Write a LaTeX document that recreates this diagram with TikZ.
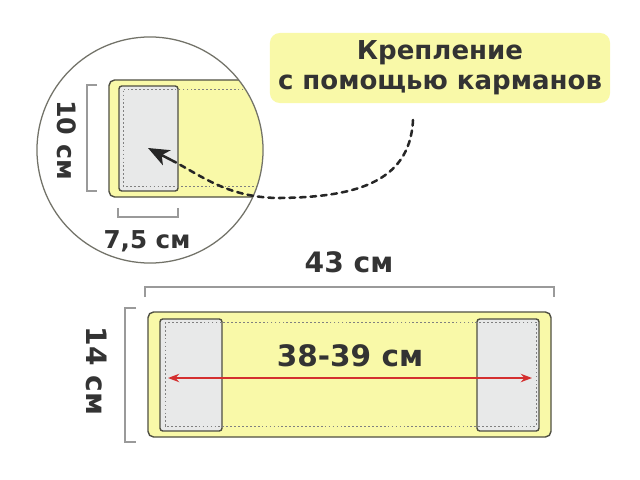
\documentclass[tikz,border=0pt]{standalone}
\usepackage{fontspec}
\setmainfont{DejaVu Sans}
\usetikzlibrary{arrows.meta}
\definecolor{beltyellow}{HTML}{F9F9A8}
\definecolor{pocketgray}{HTML}{E8E9E9}
\definecolor{edgegray}{HTML}{4F4F42}
\definecolor{stitchgray}{HTML}{808080}
\definecolor{bracketgray}{HTML}{9A9A9A}
\definecolor{textgray}{HTML}{333333}
\definecolor{arrowred}{HTML}{D42F2F}

\begin{document}
\begin{tikzpicture}[x=0.025cm,y=-0.025cm]
  \tikzset{belt/.style={fill=beltyellow,draw=edgegray,line width=1pt,rounded corners=4pt},
    pocket/.style={fill=pocketgray,draw=edgegray,line width=1pt,rounded corners=2pt},
    stitch/.style={draw=stitchgray,line width=0.6pt,dash pattern=on 1.2pt off 1.6pt},
    bracket/.style={draw=bracketgray,line width=0.8pt},
    size/.style={font=\bfseries\fontsize{20}{24}\selectfont,text=textgray,inner sep=0pt},
    note/.style={fill=beltyellow,rounded corners=7pt,align=center,text=textgray,
      font=\bfseries\fontsize{18.5}{21.5}\selectfont,minimum width=8.5cm,minimum height=1.75cm}}
  \useasboundingbox[fill=white] (0,0) rectangle (640,480);
  % close-up of one end
  \begin{scope}
    \clip (150,150) circle (2.825cm);
    \draw[belt] (109,80) rectangle (330,197);
    \draw[pocket] (119,86) rectangle (178,191);
    \draw[stitch] (330,89) -- (123,89) -- (123,186) -- (330,186);
  \end{scope}
  \draw[draw=edgegray!80,line width=0.9pt] (150,150) circle (2.825cm);
  \draw[bracket] (97,85) -- (87,85) -- (87,191) -- (97,191);
  \draw[bracket] (118,208) -- (118,217) -- (178,217) -- (178,208);
  \node[size,rotate=-90,font=\bfseries\fontsize{18}{22}\selectfont] (h10) at (67,140) {10 см};
  \node[size,font=\bfseries\fontsize{17.5}{22}\selectfont] (w75) at (147,241) {7,5 см};

  % whole belt
  \draw[belt] (148,312) rectangle (551,437);
  \draw[pocket] (160,319) rectangle (222,431);
  \draw[pocket] (477,319) rectangle (539,431);
  \draw[stitch] (165,322) rectangle (536,426);
  \draw[bracket] (145,297) -- (145,287) -- (554,287) -- (554,297);
  \draw[bracket] (136,308) -- (125,308) -- (125,442) -- (136,442);
  \node[size] (l43) at (349,262) {43 см};
  \node[size,rotate=-90] (h14) at (97,371) {14 см};
  \node[size,font=\bfseries\fontsize{21}{24}\selectfont] (inner) at (350,356) {38-39 см};
  \coordinate (endL) at (168,378);
  \coordinate (endR) at (532,378);
  \draw[{Stealth[length=8pt,width=6pt]}-{Stealth[length=8pt,width=6pt]},arrowred,line width=1.1pt] (endL) -- (endR);

  % callout
  \node[note] (note) at (440,68) {Крепление\\с помощью карманов};
  \coordinate (tail) at (413,120);
  \coordinate (neck) at (175,162);
  \coordinate (tip) at (148,148);
  \draw[draw=black!85,line width=1.8pt,dash pattern=on 4pt off 3.5pt,line cap=round]
    (tail) .. controls (410,185) and (350,197) .. (280,198) .. controls (230,198) and (203,177) .. (neck);
  \draw[-{Stealth[length=15pt,width=12pt,inset=4pt]},draw=black!85,line width=1.8pt] (neck) -- (tip);
\end{tikzpicture}
\end{document}
